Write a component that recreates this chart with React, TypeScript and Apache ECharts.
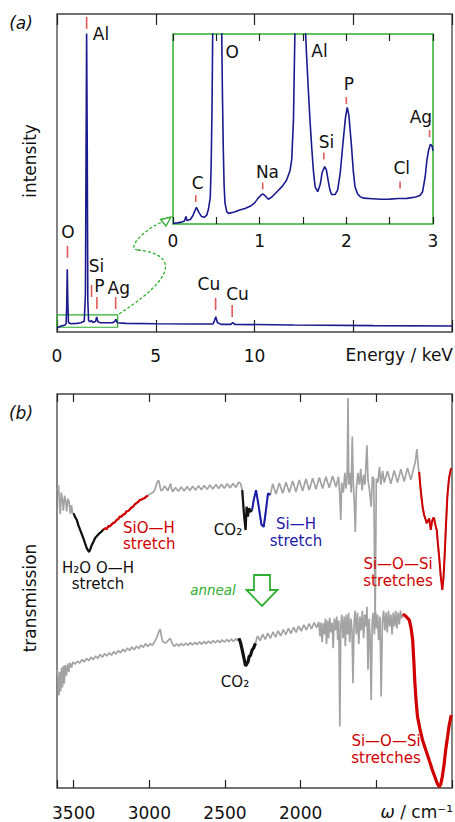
import React, { useEffect, useRef } from "react";
import * as echarts from "echarts";

const FONT = '"DejaVu Sans", "Noto Sans", sans-serif';

// ---------- Panel (a): EDX spectrum (energy keV, intensity arb.) ----------
const edxMain: [number, number][] = [
  [0.0, 1.3], [0.1, 1.6], [0.2, 1.9], [0.3, 2.0], [0.4, 2.2], [0.46, 2.6], [0.49, 8.0], [0.52, 19.7], [0.55, 9.0], [0.58, 3.0],
  [0.7, 2.6], [1.0, 2.7], [1.2, 2.9], [1.38, 3.4], [1.44, 12], [1.47, 55], [1.5, 93.9], [1.53, 60], [1.56, 10], [1.6, 3.6],
  [1.68, 3.2], [1.74, 3.6], [1.82, 3.0], [1.95, 3.3], [2.01, 4.7], [2.07, 3.2], [2.2, 2.9], [2.8, 2.9], [2.92, 3.3], [2.98, 4.0],
  [3.05, 2.9], [3.5, 2.7], [5, 2.6], [7, 2.5], [7.9, 2.5], [7.97, 3.5], [8.04, 4.8], [8.12, 3.0], [8.3, 2.4], [8.8, 2.4],
  [8.9, 3.0], [9.0, 2.4], [12, 2.2], [16, 2.0], [20, 1.9],
];

const edxInset: [number, number][] = [
  [0.0, 0.4], [0.05, 0.6], [0.1, 1.0], [0.13, 1.4], [0.15, 4.0], [0.16, 1.8], [0.2, 2.4], [0.23, 4.5], [0.27, 8.8], [0.3, 6.0],
  [0.33, 3.9], [0.36, 3.5], [0.39, 4.7], [0.41, 8.0], [0.43, 14], [0.44, 30], [0.45, 60], [0.46, 110], [0.52, 400], [0.56, 110],
  [0.57, 70], [0.58, 40], [0.59, 20], [0.6, 11], [0.62, 6.5], [0.64, 5.6], [0.7, 6.2], [0.77, 7.4], [0.83, 8.2], [0.89, 9.3],
  [0.94, 11.0], [0.98, 13.5], [1.02, 15.4], [1.04, 15.8], [1.07, 14.5], [1.1, 13.0], [1.14, 14.2], [1.2, 17.0], [1.26, 19.8], [1.31, 23.0],
  [1.35, 28.0], [1.37, 34], [1.39, 55], [1.41, 110], [1.47, 400], [1.52, 110], [1.54, 90], [1.56, 72], [1.58, 55], [1.6, 40.7],
  [1.62, 28], [1.64, 19.5], [1.67, 17.0], [1.7, 21.0], [1.72, 27.0], [1.75, 30.2], [1.77, 28.5], [1.79, 23.0], [1.81, 18.0], [1.83, 15.5],
  [1.87, 15.5], [1.9, 18.0], [1.93, 27.0], [1.96, 42.0], [1.99, 56.0], [2.01, 61.4], [2.03, 57.0], [2.06, 40.7], [2.08, 28.0], [2.1, 19.6],
  [2.13, 15.8], [2.16, 14.4], [2.2, 13.6], [2.3, 13.3], [2.4, 13.0], [2.5, 13.1], [2.6, 13.4], [2.7, 13.5], [2.8, 14.2], [2.85, 15.0],
  [2.88, 17.0], [2.91, 25.0], [2.93, 33.7], [2.95, 39.0], [2.97, 42.0], [2.99, 41.0], [3.0, 38.5],
];

const mainPeakNames = ["O", "Al", "Si", "P", "Ag", "Cu", "Cu"];
const mainMarkers: [number, number][] = [[0.53, 25.2], [1.5, 97.2], [1.75, 12.9], [2.02, 9.1], [2.97, 9.1], [8.03, 8.8], [8.87, 6.6]];
const mainLabels: [number, number][] = [[0.56, 31.4], [2.23, 93.7], [2.0, 20.8], [2.15, 14.5], [3.13, 13.8], [7.69, 15.1], [9.14, 11.9]];

const insetLabelNames = ["C", "O", "Na", "Al", "Si", "P", "Cl", "Ag"];
const insetLabels: [number, number][] = [[0.285, 21.6], [0.683, 90.5], [1.09, 27.4], [1.69, 91], [1.77, 43.2], [2.03, 73.7], [2.64, 29.5], [2.86, 56.3]];
const insetMarkers: [number, number][] = [[0.262, 13.4], [1.035, 20], [1.74, 35.8], [2.0, 65], [2.62, 20.5], [2.96, 47.6]];

const zoomBox: [number, number][] = [[0, 1.5], [3.07, 5.4]];
const energyTickLabels = [0, 5, 10];
const insetTickLabels = [0, 1, 2, 3];

// ---------- Panel (b): FTIR transmission (wavenumber cm-1) ----------
const ftirBefore: [number, number][] = [
  [3608, 75.6], [3600, 76.8], [3592, 71.0], [3588, 69.5], [3582, 75.0], [3574, 73.0], [3568, 70.4], [3560, 74.2], [3552, 72.8], [3546, 70.2],
  [3538, 73.4], [3530, 72.6], [3522, 69.6], [3514, 71.8], [3508, 69.9],
  [3501, 69.7], [3490, 68.8], [3479, 68.0], [3468, 66.6], [3457, 65.5], [3446, 64.4], [3436, 63.4], [3424, 62.0], [3413, 60.8], [3405, 60.3],
  [3398, 59.9], [3390, 60.6], [3380, 61.7], [3370, 62.4], [3359, 63.4], [3345, 64.0], [3331, 64.6], [3318, 65.0],
  [3304, 65.6], [3293, 65.9], [3282, 65.7], [3270, 66.5], [3260, 66.4], [3249, 66.9], [3238, 67.3], [3228, 67.4], [3217, 68.0], [3206, 68.2],
  [3195, 68.9], [3184, 68.9], [3173, 69.4], [3162, 69.5], [3151, 70.2], [3140, 70.3], [3129, 70.7], [3118, 71.2], [3107, 71.4], [3096, 72.0],
  [3085, 72.3], [3074, 72.6], [3063, 73.1], [3052, 73.2], [3042, 73.4], [3030, 73.6], [3020, 74.0], [3009, 74.2],
  [2995, 74.6], [2976, 75.0], [2965, 75.6], [2954, 76.9], [2944, 77.9], [2937, 78.0], [2928, 76.2], [2921, 75.4], [2910, 75.8], [2900, 76.6],
  [2890, 76.2], [2878, 75.4], [2868, 76.4], [2860, 77.3], [2852, 75.8], [2845, 75.2],
  [2827, 76.3], [2808, 75.3], [2789, 76.4], [2770, 75.4], [2751, 76.5], [2732, 75.5], [2713, 76.6], [2694, 75.6], [2675, 76.7], [2656, 75.7],
  [2637, 76.8], [2618, 75.8], [2599, 76.9], [2580, 75.9], [2561, 77.0], [2542, 76.0], [2523, 77.1], [2504, 76.1], [2485, 77.2], [2466, 76.2],
  [2447, 77.3], [2428, 76.3], [2410, 77.6], [2397, 77.3],
  [2386, 75.6], [2375, 69.7], [2364, 65.5], [2357, 71.4], [2349, 68.9], [2340, 71.0], [2331, 70.1], [2321, 70.6],
  [2310, 73.1], [2295, 75.6], [2277, 71.4], [2259, 66.8], [2244, 66.3], [2229, 70.6], [2216, 74.8], [2200, 74.4],
  [2185, 77.2], [2163, 74.6], [2141, 77.4], [2119, 74.8], [2097, 77.6], [2075, 75.0], [2053, 77.9], [2031, 75.2], [2009, 78.2], [1987, 75.4],
  [1965, 78.4], [1943, 75.6], [1921, 78.6], [1899, 75.8], [1877, 78.8], [1855, 76.0], [1833, 79.0], [1811, 76.2], [1789, 79.2], [1767, 76.4],
  [1750, 79.0], [1741, 74.0], [1735, 68.0], [1729, 77.5], [1718, 75.0], [1708, 80.0], [1700, 76.0], [1692, 80.5], [1687, 99.0], [1682, 77.0],
  [1674, 80.0], [1666, 75.0], [1659, 89.2], [1652, 77.0], [1645, 72.0], [1639, 65.0], [1632, 76.0], [1622, 80.0], [1612, 77.0], [1603, 81.0],
  [1594, 75.5], [1584, 79.5], [1575, 77.0], [1562, 87.0], [1555, 78.0], [1546, 76.0], [1534, 71.4], [1526, 79.0], [1517, 78.5], [1508, 42.0],
  [1500, 78.5], [1490, 77.5], [1479, 81.5], [1470, 77.0], [1458, 80.5], [1448, 77.5],
  [1426, 80.4], [1404, 77.2], [1382, 80.6], [1360, 77.5], [1338, 80.9], [1316, 77.8], [1294, 81.2], [1272, 78.2], [1250, 81.6], [1242, 82.8],
  [1232, 86.0], [1226, 83.0], [1220, 80.5],
  [1217, 80.2], [1209, 76.5], [1202, 73.9], [1193, 71.0], [1184, 69.3], [1175, 68.2], [1167, 67.2], [1159, 67.8], [1151, 68.4], [1145, 67.0],
  [1140, 65.5], [1134, 67.2], [1129, 68.0], [1123, 68.6], [1118, 68.4], [1110, 66.8], [1101, 65.5], [1093, 62.0], [1085, 58.7], [1075, 54.0],
  [1064, 50.3], [1056, 53.5], [1049, 58.7], [1040, 66.5], [1031, 73.9], [1020, 78.5], [1009, 80.7], [1003, 81.2],
];

const ftirAfter: [number, number][] = [
  [3608, 30.0], [3602, 27.5], [3597, 23.5], [3592, 29.5], [3586, 24.5], [3580, 30.5], [3574, 25.5], [3568, 31.0], [3562, 26.5], [3556, 31.2],
  [3548, 28.5], [3540, 31.6], [3532, 29.5], [3524, 31.8], [3514, 30.6], [3504, 32.0],
  [3490, 31.4], [3475, 32.2], [3460, 31.7], [3445, 32.6], [3430, 32.0], [3415, 32.9], [3400, 32.3], [3385, 33.2], [3370, 32.6], [3355, 33.5],
  [3340, 32.9], [3325, 33.9], [3310, 33.2], [3295, 34.1], [3280, 33.5], [3265, 34.3], [3250, 33.7], [3235, 34.6], [3220, 34.0], [3205, 34.9],
  [3190, 34.3], [3175, 35.2], [3160, 34.6], [3145, 35.5], [3130, 34.9], [3115, 35.8], [3100, 35.1], [3085, 36.0], [3070, 35.4], [3055, 36.3],
  [3040, 35.7], [3025, 36.6], [3010, 35.9], [2995, 36.6], [2980, 36.2],
  [2968, 37.0], [2959, 37.6], [2948, 38.4], [2938, 39.6], [2928, 40.3], [2920, 38.5], [2911, 37.1], [2900, 36.9], [2890, 36.8], [2876, 37.4],
  [2862, 38.0], [2848, 36.6], [2834, 35.9],
  [2819, 36.6], [2804, 36.0], [2789, 36.7], [2774, 36.1], [2759, 36.8], [2744, 36.2], [2729, 36.9], [2714, 36.3], [2699, 37.0], [2684, 36.4],
  [2669, 37.1], [2654, 36.5], [2639, 37.2], [2624, 36.6], [2609, 37.3], [2594, 36.7], [2579, 37.4], [2564, 36.8], [2549, 37.5], [2534, 36.9],
  [2519, 37.6], [2504, 37.0], [2489, 37.7], [2474, 37.1], [2459, 37.8], [2444, 37.2], [2429, 37.9], [2418, 37.4],
  [2408, 38.0], [2398, 37.0], [2386, 35.0], [2375, 33.0], [2364, 31.0], [2356, 31.5], [2348, 32.0], [2340, 33.4], [2332, 33.6], [2321, 35.0],
  [2310, 35.6], [2299, 36.7],
  [2285, 38.6], [2268, 37.4], [2251, 39.0], [2234, 37.7], [2217, 39.3], [2200, 38.0], [2183, 39.6], [2166, 38.3], [2149, 39.9], [2132, 38.6],
  [2115, 40.2], [2098, 38.9], [2081, 40.5], [2064, 39.2], [2047, 40.8], [2030, 39.5], [2013, 41.1], [1996, 39.8], [1979, 41.4], [1962, 40.1],
  [1945, 41.7], [1928, 40.4], [1911, 42.0], [1894, 40.7],
  [1880, 42.2], [1872, 38.5], [1865, 42.0], [1858, 37.0], [1850, 41.8], [1843, 39.0], [1836, 43.0], [1829, 36.5], [1822, 42.5], [1815, 38.0],
  [1808, 43.2], [1800, 39.5], [1792, 42.0], [1785, 35.5], [1778, 43.0], [1770, 40.0], [1762, 43.5], [1755, 37.5], [1748, 42.5], [1741, 15.6],
  [1735, 41.0], [1728, 44.0], [1720, 38.0], [1712, 43.5], [1705, 36.0], [1698, 44.0], [1690, 39.0], [1683, 44.5], [1676, 37.0], [1668, 43.0],
  [1661, 40.0], [1654, 26.6], [1647, 42.0], [1640, 45.0], [1632, 39.0], [1624, 44.5], [1616, 36.5], [1608, 43.5], [1600, 40.0], [1592, 45.0],
  [1584, 38.0], [1576, 44.0], [1568, 41.0], [1562, 46.0], [1555, 30.0], [1548, 43.0], [1541, 38.0], [1534, 22.3], [1527, 42.5], [1520, 44.5],
  [1513, 39.0], [1506, 45.0], [1499, 40.5], [1492, 44.0], [1485, 37.5], [1476, 43.5], [1468, 23.2], [1460, 42.0], [1452, 45.0], [1444, 40.0],
  [1436, 44.5], [1428, 39.5], [1420, 45.0], [1412, 41.0], [1404, 44.0], [1396, 39.0], [1388, 44.5], [1380, 41.0], [1372, 45.0], [1364, 40.5],
  [1356, 44.5], [1348, 41.5], [1340, 45.0], [1333, 43.0],
  [1326, 44.0], [1315, 43.9], [1300, 43.4], [1282, 42.6], [1270, 40.5], [1260, 37.6], [1252, 32.0], [1245, 26.5], [1236, 21.5], [1228, 18.1],
  [1212, 15.0], [1195, 12.2], [1172, 9.5], [1151, 7.1], [1132, 4.8], [1114, 2.9], [1098, 1.2], [1085, 0.3], [1074, 1.0], [1064, 2.9],
  [1052, 6.0], [1042, 9.6], [1030, 12.8], [1020, 15.6], [1005, 18.5],
];

// highlighted wavenumber bands [high, low]
const beforeBands: [number, number][] = [[3501, 3304], [3304, 3009], [2386, 2321], [2321, 2200], [1217, 1000]];
const afterBands: [number, number][] = [[2408, 2299], [1326, 1000]];
const wavenumberTickLabels = [3500, 3000, 2500, 2000];

// ---------- styles ----------
const NAVY = "#1b1b8f";
const MARK = "#e05a5a";
const GREEN = "#2fae2f";
const GRAY = "#a3a3a3";
const RED = "#d10000";
const BLUE = "#1c1caa";
const INK = "#111111";

function bandData(data: [number, number][], band: [number, number]) {
  return data.filter((d) => d[0] <= band[0] && d[0] >= band[1]);
}

function markerSeries(axis: number, data: [number, number][], len: number) {
  return {
    type: "custom",
    xAxisIndex: axis,
    yAxisIndex: axis === 0 ? 0 : 1,
    data,
    silent: true,
    z: 6,
    renderItem: (_p: any, api: any) => {
      const c = api.coord([api.value(0), api.value(1)]);
      return {
        type: "line",
        shape: { x1: c[0], y1: c[1] - len / 2, x2: c[0], y2: c[1] + len / 2 },
        style: { stroke: MARK, lineWidth: 1.6 },
      };
    },
  };
}

function labelSeries(axis: number, data: [number, number][], names: string[]) {
  return {
    type: "custom",
    xAxisIndex: axis,
    yAxisIndex: axis === 0 ? 0 : 1,
    data,
    silent: true,
    z: 7,
    renderItem: (p: any, api: any) => {
      const c = api.coord([api.value(0), api.value(1)]);
      return {
        type: "text",
        x: c[0],
        y: c[1],
        style: {
          text: names[p.dataIndex],
          fill: INK,
          font: `17px ${FONT}`,
          align: "center",
          verticalAlign: "middle",
          textAlign: "center",
          textVerticalAlign: "middle",
        },
      };
    },
  };
}

function txt(x: number, y: number, text: string, o: any = {}) {
  return {
    type: "text",
    x,
    y,
    rotation: o.rotation || 0,
    z: 100,
    style: {
      text,
      fill: o.fill || INK,
      font: `${o.italic ? "italic " : ""}${o.size || 15}px ${FONT}`,
      align: o.align || "center",
      verticalAlign: "middle",
      textAlign: o.align || "center",
      textVerticalAlign: "middle",
      rich: o.rich,
    },
  };
}

// two-line annotation drawn as two separate text lines
function txt2(x: number, y1: number, y2: number, a: string, b: string, o: any = {}) {
  return [txt(x, y1, a, o), txt(x, y2, b, o)];
}

function xAxisCfg(grid: number, pos: "top" | "bottom", min: number, max: number, interval: number, tickLen: number, labels: number[] | null, margin: number, inverse = false) {
  return {
    type: "value",
    gridIndex: grid,
    position: pos,
    min,
    max,
    interval,
    inverse,
    axisLine: { show: false },
    splitLine: { show: false },
    axisTick: { show: true, inside: true, length: tickLen, lineStyle: { color: "#222", width: 1.2 } },
    axisLabel: {
      show: !!labels,
      margin,
      fontFamily: FONT,
      fontSize: 17,
      color: INK,
      formatter: (v: number) => (labels && labels.some((l) => Math.abs(l - v) < 1e-6) ? String(v) : ""),
    },
  };
}

function yAxisCfg(grid: number) {
  return {
    type: "value",
    gridIndex: grid,
    min: 0,
    max: 100,
    axisLine: { show: false },
    axisTick: { show: false },
    axisLabel: { show: false },
    splitLine: { show: false },
  };
}

export default function App() {
  const ref = useRef<HTMLDivElement>(null);

  useEffect(() => {
    if (!ref.current) return;
    const chart = echarts.init(ref.current, null, { renderer: "svg" });

    const bandColorsBefore = [INK, RED, INK, BLUE, RED];
    const bandWidthsBefore = [2.2, 2.2, 2.2, 2.0, 2.0];
    const bandColorsAfter = [INK, RED];

    const series: any[] = [
      {
        type: "line",
        xAxisIndex: 0,
        yAxisIndex: 0,
        data: edxMain,
        symbol: "none",
        lineStyle: { color: NAVY, width: 1.6 },
        z: 3,
        markArea: {
          silent: true,
          label: { show: false },
          itemStyle: { color: "rgba(0,0,0,0)", borderColor: GREEN, borderWidth: 1.2 },
          data: [[{ coord: zoomBox[0] }, { coord: zoomBox[1] }]],
        },
      },
      markerSeries(0, mainMarkers, 12),
      labelSeries(0, mainLabels, mainPeakNames),
      {
        type: "line",
        xAxisIndex: 2,
        yAxisIndex: 1,
        data: edxInset,
        symbol: "none",
        clip: true,
        lineStyle: { color: NAVY, width: 1.6 },
        z: 3,
      },
      markerSeries(2, insetMarkers, 7),
      labelSeries(2, insetLabels, insetLabelNames),
      {
        type: "line",
        xAxisIndex: 4,
        yAxisIndex: 2,
        data: ftirBefore,
        symbol: "none",
        lineStyle: { color: GRAY, width: 1.7 },
        z: 2,
      },
      {
        type: "line",
        xAxisIndex: 4,
        yAxisIndex: 2,
        data: ftirAfter,
        symbol: "none",
        lineStyle: { color: GRAY, width: 1.7 },
        z: 2,
      },
    ];
    beforeBands.forEach((b, i) =>
      series.push({
        type: "line",
        xAxisIndex: 4,
        yAxisIndex: 2,
        data: bandData(ftirBefore, b),
        symbol: "none",
        lineStyle: { color: bandColorsBefore[i], width: bandWidthsBefore[i] },
        z: 4,
      })
    );
    afterBands.forEach((b, i) =>
      series.push({
        type: "line",
        xAxisIndex: 4,
        yAxisIndex: 2,
        data: bandData(ftirAfter, b),
        symbol: "none",
        lineStyle: { color: bandColorsAfter[i], width: 3.2 },
        z: 4,
      })
    );

    const graphic: any[] = [
      txt(21, 23, "(a)", { italic: true, size: 17 }),
      txt(21, 413, "(b)", { italic: true, size: 17 }),
      txt(30, 161, "intensity", { size: 17, rotation: Math.PI / 2 }),
      txt(30, 598, "transmission", { size: 17, rotation: Math.PI / 2 }),
      txt(453, 355, "Energy / keV", { size: 17, align: "right" }),
      txt(453, 812, "{w|ω} / cm⁻¹", {
        size: 17,
        align: "right",
        rich: { w: { fontStyle: "italic", fontSize: 17, fontFamily: FONT, fill: INK } },
      }),
      ...txt2(123, 527.5, 544, "SiO—H", "stretch", { fill: RED, align: "left" }),
      ...txt2(98, 567.5, 584, "H₂O O—H", "stretch", {}),
      txt(228, 530, "CO₂"),
      ...txt2(296, 523.5, 540.5, "Si—H", "stretch", { fill: BLUE }),
      txt(213, 590, "anneal", { fill: GREEN, italic: true, size: 13.5 }),
      ...txt2(398, 564, 580.5, "Si—O—Si", "stretches", { fill: RED }),
      txt(235, 682, "CO₂"),
      ...txt2(386, 741, 757.5, "Si—O—Si", "stretches", { fill: RED }),
      {
        type: "polygon",
        z: 100,
        shape: { points: [[254, 575], [270, 575], [270, 590], [277.5, 590], [262, 606], [246.5, 590], [254, 590]] },
        style: { stroke: GREEN, lineWidth: 1.8, fill: "#ffffff" },
      },
      {
        type: "bezierCurve",
        z: 100,
        shape: { x1: 119, y1: 314, cpx1: 195, cpy1: 265, cpx2: 160, cpy2: 252, x2: 138, y2: 250 },
        style: { stroke: GREEN, lineWidth: 1.3, lineDash: [3, 2], fill: null },
      },
      {
        type: "bezierCurve",
        z: 100,
        shape: { x1: 138, y1: 250, cpx1: 124, cpy1: 249, cpx2: 148, cpy2: 226, x2: 165, y2: 221 },
        style: { stroke: GREEN, lineWidth: 1.3, lineDash: [3, 2], fill: null },
      },
      {
        type: "polygon",
        z: 100,
        shape: { points: [[171, 217], [166, 226], [160.5, 219.5]] },
        style: { stroke: GREEN, lineWidth: 1.3, fill: "#ffffff" },
      },
    ];

    chart.setOption({
      animation: false,
      backgroundColor: "#ffffff",
      textStyle: { fontFamily: FONT },
      grid: [
        { left: 57, top: 14, width: 396, height: 318, show: true, borderColor: "#444", borderWidth: 1.3, backgroundColor: "transparent" },
        { left: 173, top: 34, width: 260, height: 190, show: true, borderColor: GREEN, borderWidth: 1.5, backgroundColor: "transparent" },
        { left: 57, top: 394, width: 396, height: 394, show: true, borderColor: "#444", borderWidth: 1.3, backgroundColor: "transparent" },
      ],
      xAxis: [
        xAxisCfg(0, "bottom", 0, 20, 5, 12, energyTickLabels, 15),
        xAxisCfg(0, "top", 0, 20, 5, 11, null, 8),
        xAxisCfg(1, "bottom", 0, 3, 0.5, 7, insetTickLabels, 8),
        xAxisCfg(1, "top", 0, 3, 0.5, 7, null, 8),
        xAxisCfg(2, "bottom", 1000, 3610, 500, 8, wavenumberTickLabels, 16, true),
        xAxisCfg(2, "top", 1000, 3610, 500, 8, null, 8, true),
      ],
      yAxis: [yAxisCfg(0), yAxisCfg(1), yAxisCfg(2)],
      series,
      graphic,
    });

    return () => chart.dispose();
  }, []);

  return <div ref={ref} style={{ position: "absolute", left: 0, top: 0, width: 455, height: 822 }} />;
}
